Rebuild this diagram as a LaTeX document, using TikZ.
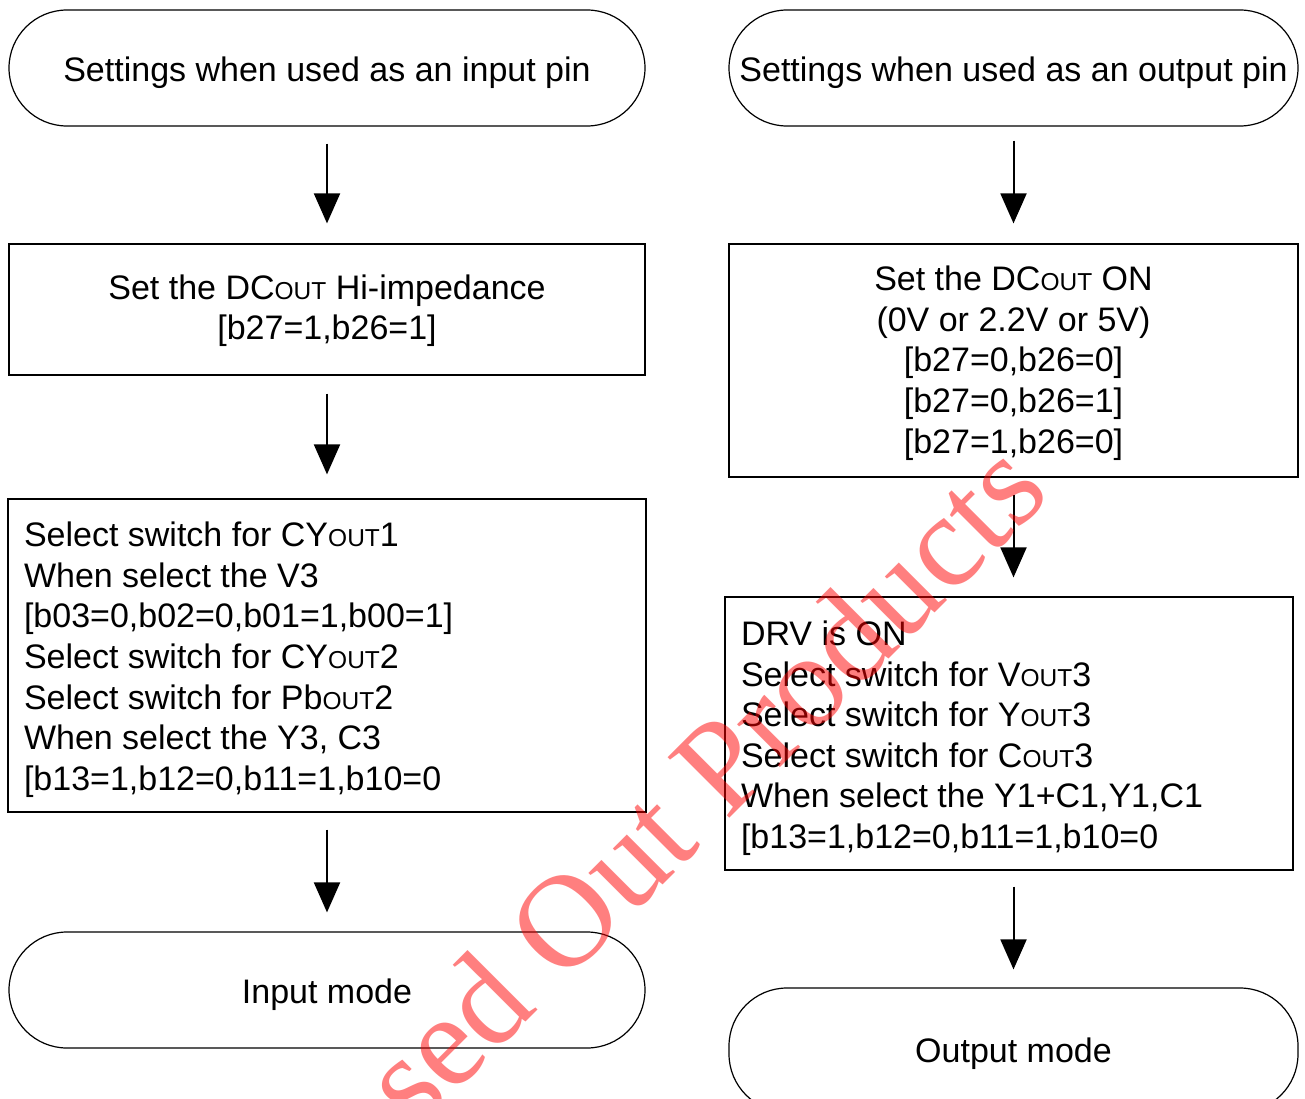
\documentclass[tikz,border=0pt]{standalone}
\usepackage{fontspec}
\setmainfont{Liberation Sans}
\newfontfamily\wmfont{Liberation Serif}
\usetikzlibrary{arrows.meta}
\newcommand\lowcap[1]{{\fontsize{24.5}{24.5}\selectfont #1}}
\begin{document}
\begin{tikzpicture}[x=1pt,y=-1pt,
  every node/.style={font=\fontsize{34}{40.6}\selectfont},
  dn/.style={execute at begin node={\rule{0pt}{#1}}},
  term/.style={draw,line width=1.2pt,rounded corners=58pt,inner sep=0pt,align=center},
  boxc/.style={draw,line width=1.2pt,inner sep=0pt,align=flush center},
  boxl/.style={draw,line width=1.2pt,inner ysep=0pt,inner xsep=16pt,align=flush left},
  arr/.style={line width=2pt,-{Triangle[width=26pt,length=30pt]}},
  wm/.style={text=red,text opacity=0.5,font=\wmfont\fontsize{132}{132}\selectfont,inner sep=0pt}]
\useasboundingbox (0,0) rectangle (1305,1099);
\begin{scope}
\clip (0,0) rectangle (1305,1099);
\node[term,minimum width=636pt,minimum height=116pt,dn=35pt] (t1) at (327,68) {Settings when used as an input pin};
\node[boxc,text width=636pt,minimum height=131pt,dn=27pt] (b1) at (327,309.5) {Set the DC\lowcap{OUT} Hi-impedance\\{}[b27=1,b26=1]};
\node[boxl,text width=606pt,minimum height=313pt,dn=33pt] (b2) at (327,655.5) {Select switch for CY\lowcap{OUT}1\\When select the V3\\{}[b03=0,b02=0,b01=1,b00=1]\\Select switch for CY\lowcap{OUT}2\\Select switch for Pb\lowcap{OUT}2\\When select the Y3, C3\\{}[b13=1,b12=0,b11=1,b10=0};
\node[term,minimum width=636pt,minimum height=116pt,dn=34pt] (t2) at (327,990) {Input mode};
\node[term,minimum width=569pt,minimum height=116pt,dn=35pt] (t3) at (1013.5,68) {Settings when used as an output pin};
\node[boxc,text width=569pt,minimum height=233pt,dn=30pt] (b3) at (1013.5,360.5) {Set the DC\lowcap{OUT} ON\\(0V or 2.2V or 5V)\\{}[b27=0,b26=0]\\{}[b27=0,b26=1]\\{}[b27=1,b26=0]};
\node[boxl,text width=536pt,minimum height=273pt,dn=34pt] (b4) at (1009,733.5) {DRV is ON\\Select switch for V\lowcap{OUT}3\\Select switch for Y\lowcap{OUT}3\\Select switch for C\lowcap{OUT}3\\When select the Y1+C1,Y1,C1\\{}[b13=1,b12=0,b11=1,b10=0};
\node[term,minimum width=569pt,minimum height=124pt,dn=33pt] (t4) at (1013.5,1050) {Output mode};
\draw[arr] ([yshift=-17pt]t1.south) -- ([yshift=20pt]b1.north);
\draw[arr] ([yshift=-18pt]b1.south) -- ([yshift=24pt]b2.north);
\draw[arr] ([yshift=-17pt]b2.south) -- ([yshift=19pt]t2.north);
\draw[arr] ([yshift=-14pt]t3.south) -- ([yshift=20pt]b3.north);
\draw[arr] ([yshift=-17pt]b3.south) -- ([yshift=19pt]b3.south |- b4.north);
\draw[arr] ([yshift=-16pt]b4.south -| t4.north) -- ([yshift=18pt]t4.north);
\node[wm,rotate=45] (wm) at (632,852) {Phased Out Products};
\end{scope}
\end{tikzpicture}
\end{document}
